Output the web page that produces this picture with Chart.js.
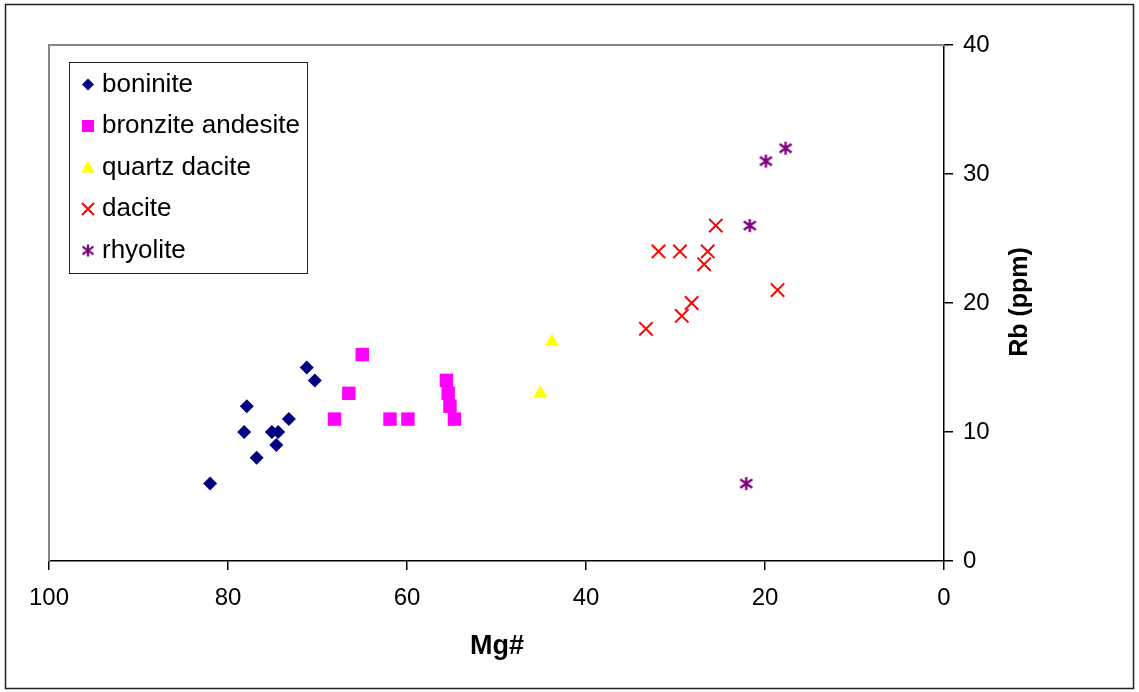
<!DOCTYPE html>
<html>
<head>
<meta charset="utf-8">
<script src="https://cdn.jsdelivr.net/npm/chart.js@4/dist/chart.umd.min.js"></script>
<style>
  body { margin: 0; background: #fff; }
  #chart { display: block; }
</style>
</head>
<body>
<canvas id="chart" width="1139" height="692"></canvas>
<script>
// Mg# (x) and Rb ppm (y)
const boniniteMg = [71.2, 70.3, 77.9, 73.2, 78.2, 75.1, 74.4, 74.6, 76.8, 82.0];
const boniniteRb = [15, 14, 12, 11, 10, 10, 10, 9, 8, 6];
const bronziteMg = [65.0, 66.5, 68.1, 61.9, 59.9, 55.6, 55.4, 55.2, 54.7];
const bronziteRb = [16, 13, 11, 11, 11, 14, 13, 12, 11];
const quartzMg = [43.8, 45.1];
const quartzRb = [17, 13];
const daciteMg = [25.5, 31.9, 29.5, 26.4, 26.8, 18.6, 28.2, 29.3, 33.3];
const daciteRb = [26, 24, 24, 24, 23, 21, 20, 19, 18];
const rhyoliteMg = [17.7, 19.9, 21.7, 22.1];
const rhyoliteRb = [32, 31, 26, 6];

const seriesNames = ['boninite', 'bronzite andesite', 'quartz dacite', 'dacite', 'rhyolite'];
const xTicks = [0, 20, 40, 60, 80, 100];
const yTicks = [0, 10, 20, 30, 40];

const FONT = '"Liberation Sans", Arial, sans-serif';

function toPoints(xs, ys) {
    return xs.map((x, i) => ({ x: x, y: ys[i] }));
}

// asterisk marker (vertical bar + X), like the Excel rhyolite symbol
function makeAsterisk(size, color, lw) {
    const c = document.createElement('canvas');
    c.width = size;
    c.height = size;
    const g = c.getContext('2d');
    g.strokeStyle = color;
    g.lineWidth = lw;
    const m = size / 2;
    g.beginPath();
    g.moveTo(m, 1); g.lineTo(m, size - 1);
    g.moveTo(1.5, size * 0.22); g.lineTo(size - 1.5, size * 0.78);
    g.moveTo(size - 1.5, size * 0.22); g.lineTo(1.5, size * 0.78);
    g.stroke();
    return c;
}

const asteriskBig = makeAsterisk(15, '#800080', 2.4);
const asteriskSmall = makeAsterisk(14, '#800080', 2.2);

// draws legend marker by hand
function drawMarker(ctx, kind, x, y) {
    ctx.save();
    if (kind === 0) {
        ctx.fillStyle = '#000080';
        ctx.beginPath();
        ctx.moveTo(x, y - 6); ctx.lineTo(x + 6, y); ctx.lineTo(x, y + 6); ctx.lineTo(x - 6, y);
        ctx.closePath();
        ctx.fill();
    } else if (kind === 1) {
        ctx.fillStyle = '#ff00ff';
        ctx.fillRect(x - 6, y - 6, 12, 12);
    } else if (kind === 2) {
        ctx.fillStyle = '#ffff00';
        ctx.beginPath();
        ctx.moveTo(x, y - 7); ctx.lineTo(x + 6.5, y + 5); ctx.lineTo(x - 6.5, y + 5);
        ctx.closePath();
        ctx.fill();
    } else if (kind === 3) {
        ctx.strokeStyle = '#ff0000';
        ctx.lineWidth = 2;
        ctx.beginPath();
        ctx.moveTo(x - 6, y - 6); ctx.lineTo(x + 6, y + 6);
        ctx.moveTo(x + 6, y - 6); ctx.lineTo(x - 6, y + 6);
        ctx.stroke();
    } else {
        ctx.drawImage(asteriskSmall, x - 7, y - 7);
    }
    ctx.restore();
}

const decorPlugin = {
    id: 'decor',
    beforeDraw(chart) {
        const ctx = chart.ctx;
        ctx.save();
        ctx.fillStyle = '#fff';
        ctx.fillRect(0, 0, chart.width, chart.height);
        ctx.strokeStyle = '#222';
        ctx.lineWidth = 1.5;
        ctx.strokeRect(5.5, 4.5, 1128, 684);
        ctx.restore();
    },
    beforeDatasetsDraw(chart) {
        const ctx = chart.ctx;
        const a = chart.chartArea;
        ctx.save();
        // gray plot area border (top + left)
        ctx.strokeStyle = '#858585';
        ctx.lineWidth = 2;
        ctx.beginPath();
        ctx.moveTo(a.left, a.bottom);
        ctx.lineTo(a.left, a.top);
        ctx.lineTo(a.right, a.top);
        ctx.stroke();

        // axis titles
        ctx.fillStyle = '#000';
        ctx.textAlign = 'center';
        ctx.textBaseline = 'middle';
        ctx.font = 'bold 27px ' + FONT;
        ctx.fillText('Mg#', 497, 647);
        ctx.font = 'bold 25px ' + FONT;
        ctx.translate(1020, 302);
        ctx.rotate(-Math.PI / 2);
        ctx.fillText('Rb (ppm)', 0, 0);
        ctx.restore();
    },
    afterDatasetsDraw(chart) {
        const ctx = chart.ctx;
        ctx.save();
        ctx.fillStyle = '#fff';
        ctx.fillRect(69, 62, 238, 211);
        ctx.strokeStyle = '#222';
        ctx.lineWidth = 1;
        ctx.strokeRect(69.5, 62.5, 238, 211);
        const baselines = [91.5, 133, 174.5, 216, 257.5];
        ctx.font = '26px ' + FONT;
        ctx.fillStyle = '#000';
        ctx.textAlign = 'left';
        ctx.textBaseline = 'alphabetic';
        seriesNames.forEach((name, i) => {
            drawMarker(ctx, i, 88, baselines[i] - 7);
            ctx.fillText(name, 102, baselines[i]);
        });
        ctx.restore();
    }
};

const ctx = document.getElementById('chart');

new Chart(ctx, {
    type: 'scatter',
    data: {
        datasets: [{
            label: seriesNames[0],
            data: toPoints(boniniteMg, boniniteRb),
            pointStyle: 'rectRot',
            pointRadius: 7,
            backgroundColor: '#000080',
            borderColor: '#000080',
            borderWidth: 0
        }, {
            label: seriesNames[1],
            data: toPoints(bronziteMg, bronziteRb),
            pointStyle: 'rect',
            pointRadius: 9.5,
            backgroundColor: '#ff00ff',
            borderColor: '#ff00ff',
            borderWidth: 0
        }, {
            label: seriesNames[2],
            data: toPoints(quartzMg, quartzRb),
            pointStyle: 'triangle',
            pointRadius: 8,
            backgroundColor: '#ffff00',
            borderColor: '#ffff00',
            borderWidth: 0
        }, {
            label: seriesNames[3],
            data: toPoints(daciteMg, daciteRb),
            pointStyle: 'crossRot',
            pointRadius: 9.5,
            backgroundColor: '#ff0000',
            borderColor: '#ff0000',
            borderWidth: 2
        }, {
            label: seriesNames[4],
            data: toPoints(rhyoliteMg, rhyoliteRb),
            pointStyle: asteriskBig,
            pointRadius: 7,
            backgroundColor: '#800080',
            borderColor: '#800080'
        }]
    },
    options: {
        responsive: false,
        animation: false,
        layout: {
            padding: { left: 49, top: 45, right: 0, bottom: 0 }
        },
        scales: {
            x: {
                type: 'linear',
                min: 0,
                max: 100,
                reverse: true,
                afterFit: function(scale) { scale.height = 131; },
                afterBuildTicks: function(scale) { scale.ticks = xTicks.map(v => ({ value: v })); },
                grid: {
                    drawOnChartArea: false,
                    drawTicks: true,
                    tickLength: 9,
                    color: '#000',
                    lineWidth: 1.5
                },
                border: { display: true, color: '#000', width: 1.5 },
                ticks: {
                    color: '#000',
                    padding: 14,
                    maxRotation: 0,
                    font: { family: FONT, size: 24 }
                }
            },
            y: {
                type: 'linear',
                position: 'right',
                min: 0,
                max: 40,
                afterFit: function(scale) { scale.width = 195; },
                afterBuildTicks: function(scale) { scale.ticks = yTicks.map(v => ({ value: v })); },
                grid: {
                    drawOnChartArea: false,
                    drawTicks: true,
                    tickLength: 9,
                    color: '#000',
                    lineWidth: 1.5
                },
                border: { display: true, color: '#000', width: 1.5 },
                ticks: {
                    color: '#000',
                    padding: 10,
                    font: { family: FONT, size: 24 }
                }
            }
        },
        plugins: {
            legend: { display: false },
            tooltip: { enabled: false }
        }
    },
    plugins: [decorPlugin]
});
</script>
</body>
</html>
